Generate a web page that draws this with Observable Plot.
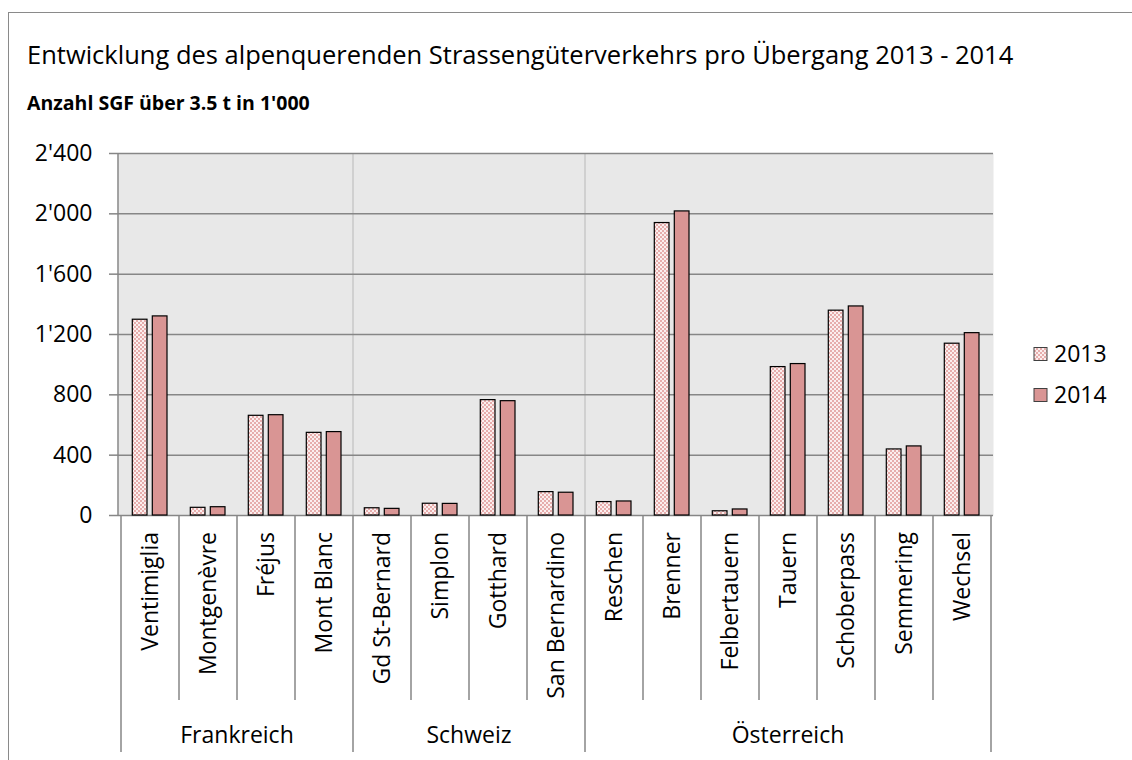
<!DOCTYPE html>
<html><head><meta charset="utf-8">
<script src="https://cdn.jsdelivr.net/npm/d3@7"></script>
<script src="https://cdn.jsdelivr.net/npm/@observablehq/plot@0.6"></script>
<style>
html,body{margin:0;padding:0;background:#fff;overflow:hidden;width:1132px;height:760px;}
#wrap{position:relative;width:1132px;height:760px;font-family:"Open Sans",sans-serif;color:#000;}
#border{position:absolute;left:8px;top:12px;width:1200px;height:800px;border:1.5px solid #8a8a8a;box-sizing:border-box;}
#title{position:absolute;left:27px;top:42px;font-size:25.5px;white-space:nowrap;line-height:1;}
#subtitle{position:absolute;left:27px;top:93px;font-size:19.5px;font-weight:bold;white-space:nowrap;line-height:1;}
#chart{position:absolute;left:0;top:0;}
</style></head>
<body><div id="wrap"><div id="border"></div>
<div id="title">Entwicklung des alpenquerenden Strassengüterverkehrs pro Übergang 2013 - 2014</div>
<div id="subtitle">Anzahl SGF über 3.5 t in 1'000</div>
<div id="chart"></div></div>
<script>
const passes = ["Ventimiglia","Montgenèvre","Fréjus","Mont Blanc","Gd St-Bernard","Simplon","Gotthard","San Bernardino","Reschen","Brenner","Felbertauern","Tauern","Schoberpass","Semmering","Wechsel"];
const countries = ["Frankreich","Frankreich","Frankreich","Frankreich","Schweiz","Schweiz","Schweiz","Schweiz","Österreich","Österreich","Österreich","Österreich","Österreich","Österreich","Österreich"];
const groups = ["Frankreich","Schweiz","Österreich"];
const years = ["2013","2014"];
const values2013 = [1298,51,661,548,48,78,765,155,89,1939,28,984,1358,438,1139];
const values2014 = [1320,55,665,553,44,77,758,151,93,2016,40,1004,1386,458,1209];
const yTicks = [0,400,800,1200,1600,2000,2400];

const FONT = "Open Sans";
const FS = 23;
const fmt = d3.formatLocale({decimal:".", thousands:"'", grouping:[3], currency:["",""]}).format(",");
const rows13 = passes.map((p,i)=>({pass:p, country:countries[i], year:years[0], value:values2013[i]}));
const rows14 = passes.map((p,i)=>({pass:p, country:countries[i], year:years[1], value:values2014[i]}));

const FILL13 = "url(#pat2013)";
const FILL14 = "#d99594";

function defs() {
  const d = d3.create("svg:defs");
  const p = d.append("pattern").attr("id","pat2013").attr("patternUnits","userSpaceOnUse")
    .attr("width",4).attr("height",4);
  p.append("rect").attr("width",4).attr("height",4).attr("fill","#fbeeee");
  p.append("rect").attr("width",2).attr("height",2).attr("fill","#e6adac");
  p.append("rect").attr("x",2).attr("y",2).attr("width",2).attr("height",2).attr("fill","#e6adac");
  return d.node();
}

function separators(index, scales, values, dims) {
  const x = scales.x;
  const g = d3.create("svg:g").attr("stroke","#c8c8c8").attr("stroke-width",1.5);
  groups.slice(1).forEach(gr => {
    const first = passes[countries.indexOf(gr)];
    g.append("line").attr("x1",x(first)).attr("x2",x(first))
      .attr("y1",dims.marginTop).attr("y2",dims.height-dims.marginBottom);
  });
  return g.node();
}

function lowerAxis(index, scales, values, dims) {
  const x = scales.x, bw = x.bandwidth();
  const y0 = dims.height - dims.marginBottom;
  const g = d3.create("svg:g").attr("font-family",FONT).attr("font-size",FS).attr("fill","#000");
  const lines = g.append("g").attr("stroke","#868686").attr("stroke-width",1.5);
  lines.append("line").attr("x1",dims.marginLeft).attr("x2",dims.marginLeft)
    .attr("y1",dims.marginTop).attr("y2",y0);
  passes.forEach((p,i)=>{
    if (i>0 && countries[i]===countries[i-1]) {
      lines.append("line").attr("x1",x(p)).attr("x2",x(p)).attr("y1",y0).attr("y2",y0+185);
    }
  });
  groups.forEach(gr=>{
    const first = passes[countries.indexOf(gr)];
    lines.append("line").attr("x1",x(first)).attr("x2",x(first)).attr("y1",y0).attr("y2",y0+237);
  });
  const lastP = passes[passes.length-1];
  lines.append("line").attr("x1",x(lastP)+bw).attr("x2",x(lastP)+bw).attr("y1",y0).attr("y2",y0+237);
  passes.forEach(p=>{
    const cx = x(p)+bw/2, cy = y0+17;
    g.append("text").attr("transform",`translate(${cx},${cy}) rotate(-90)`)
      .attr("text-anchor","end").attr("dy","0.35em").text(p);
  });
  groups.forEach(gr=>{
    const members = passes.filter((p,i)=>countries[i]===gr);
    const a = x(members[0]), b = x(members[members.length-1])+bw;
    g.append("text").attr("x",(a+b)/2).attr("y",y0+220).attr("text-anchor","middle")
      .attr("dy","0.35em").text(gr);
  });
  return g.node();
}

function legend(index, scales, values, dims) {
  const lx = dims.width - dims.marginRight + 41;
  const g = d3.create("svg:g").attr("font-family",FONT).attr("font-size",FS).attr("fill","#000");
  [[years[0],FILL13,354],[years[1],FILL14,395]].forEach(([t,f,cy])=>{
    g.append("rect").attr("x",lx).attr("y",cy-6.5).attr("width",13).attr("height",13)
      .attr("fill",f).attr("stroke","#404040").attr("stroke-width",1);
    g.append("text").attr("x",lx+20).attr("y",cy).attr("text-anchor","start").attr("dy","0.35em").text(t);
  });
  return g.node();
}

const chart = Plot.plot({
  width: 1132,
  height: 760,
  marginTop: 153,
  marginBottom: 245,
  marginLeft: 118,
  marginRight: 139,
  style: {fontFamily: FONT, fontSize: FS+"px", background: "transparent", color:"#000"},
  x: {domain: passes, padding: 0, axis: null},
  y: {domain: [0, 2400], axis: null},
  marks: [
    defs,
    Plot.frame({fill: "#e8e8e8", stroke: null}),
    separators,
    Plot.gridY(yTicks, {stroke: "#868686", strokeOpacity: 1, strokeWidth: 1.5}),
    Plot.barY(rows13, {x: "pass", y: "value", fill: FILL13, stroke: "#000", strokeWidth: 1.2, insetLeft: 11.3, insetRight: 32}),
    Plot.barY(rows14, {x: "pass", y: "value", fill: FILL14, stroke: "#000", strokeWidth: 1.2, insetLeft: 31.3, insetRight: 12}),
    Plot.axisY(yTicks, {tickFormat: fmt, tickSize: 9, tickPadding: 17, stroke: "#868686", strokeWidth: 1.5, fontSize: FS, label: null}),
    lowerAxis,
    legend
  ]
});
document.getElementById("chart").appendChild(chart);
</script>
</body></html>
